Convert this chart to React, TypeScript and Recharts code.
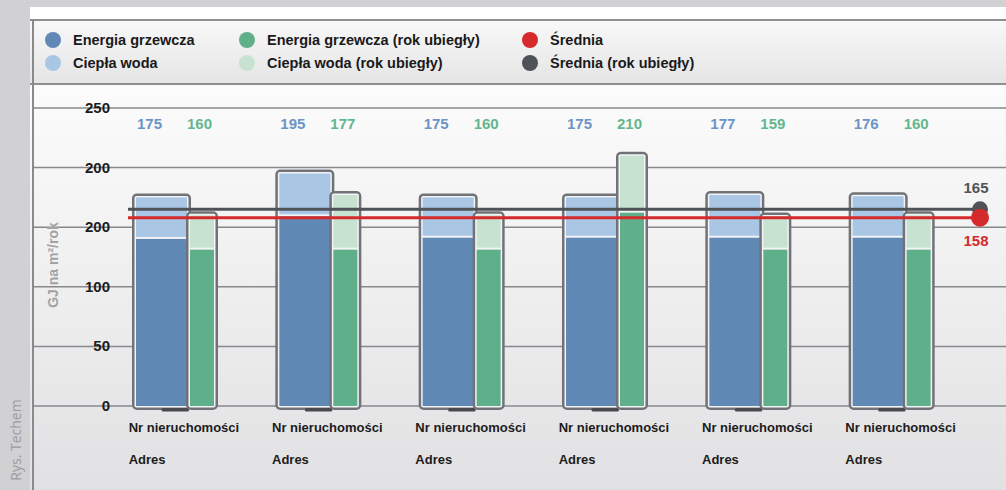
import {
  ComposedChart,
  Bar,
  XAxis,
  YAxis,
  CartesianGrid,
  ReferenceLine,
  LabelList,
} from "recharts";

const PROPERTIES = [
  "Nr nieruchomości",
  "Nr nieruchomości",
  "Nr nieruchomości",
  "Nr nieruchomości",
  "Nr nieruchomości",
  "Nr nieruchomości",
];
const ADDRESSES = ["Adres", "Adres", "Adres", "Adres", "Adres", "Adres"];

// GJ per m² per year
const HEATING = [141, 160, 142, 142, 142, 142];
const HOT_WATER = [34, 35, 33, 33, 35, 34];
const HEATING_PREV = [132, 132, 132, 163, 132, 132];
const HOT_WATER_PREV = [28, 45, 28, 47, 27, 28];

const AVERAGE = 158;
const AVERAGE_PREV = 165;

const Y_TICKS = [0, 50, 100, 150, 200, 250];
const Y_TICK_LABELS = ["0", "50", "100", "200", "200", "250"];
const Y_TITLE = "GJ na m²/rok";

const BLUE = "#6089b6";
const LIGHT_BLUE = "#a9c7e5";
const GREEN = "#5fb08a";
const LIGHT_GREEN = "#c7e2d1";
const RED = "#d42a2c";
const DARK = "#4f5358";

const FONT = "'Liberation Sans', Arial, sans-serif";
const W = 1006;
const H = 490;
const GRID_LEFT = 33;
const LABEL_Y = 129;

const data = PROPERTIES.map((name, i) => ({
  name,
  heating: HEATING[i],
  water: HOT_WATER[i],
  total: HEATING[i] + HOT_WATER[i],
  heatingPrev: HEATING_PREV[i],
  waterPrev: HOT_WATER_PREV[i],
  totalPrev: HEATING_PREV[i] + HOT_WATER_PREV[i],
}));

const LEGEND = [
  { label: "Energia grzewcza", color: BLUE, x: 53, y: 40 },
  { label: "Ciepła woda", color: LIGHT_BLUE, x: 53, y: 63 },
  { label: "Energia grzewcza (rok ubiegły)", color: GREEN, x: 247, y: 40 },
  { label: "Ciepła woda (rok ubiegły)", color: LIGHT_GREEN, x: 247, y: 63 },
  { label: "Średnia", color: RED, x: 530, y: 40 },
  { label: "Średnia (rok ubiegły)", color: DARK, x: 530, y: 63 },
];

// bottom segment draws the frame for the whole stack
function StackBase(props: any) {
  const { x, y, width, height, fill, stackTotal, baseValue, shadow } = props;
  if (!height || height <= 0) return null;
  const fullH = (height * stackTotal) / baseValue;
  const bottom = y + height;
  const top = bottom - fullH;
  return (
    <g>
      <rect x={x - 4} y={top - 4} width={width + 8} height={fullH + 8} rx={5} fill="#707277" />
      {shadow && (
        <rect x={x + width / 2} y={bottom + 2} width={width / 2 + 2} height={3.5} rx={1.5} fill="#484a4e" />
      )}
      <rect x={x - 1.5} y={top - 1.5} width={width + 3} height={fullH + 3} rx={2} fill="#f3f4f6" />
      <rect x={x} y={y + 1} width={width} height={height - 1} fill={fill} />
    </g>
  );
}

function StackTop(props: any) {
  const { x, y, width, height, fill } = props;
  if (!height || height <= 0) return null;
  return <rect x={x} y={y} width={width} height={height - 1} fill={fill} />;
}

const makeTopLabel = (color: string, dx: number) => (props: any) => {
  const { x, value } = props;
  return (
    <text x={x + dx} y={LABEL_Y} fill={color} fontSize={15} fontWeight="bold" fontFamily={FONT}>
      {value}
    </text>
  );
};

const makeAverageLine = (color: string, value: number, above: boolean, r: number) => (props: any) => {
  const { x1, x2, y1 } = props;
  return (
    <g>
      <line x1={x1 + 25} x2={x2} y1={y1} y2={y1} stroke={color} strokeWidth={3} />
      <circle cx={x2} cy={y1} r={r} fill={color} />
      <text
        x={x2 - 4}
        y={above ? y1 - 16 : y1 + 28}
        textAnchor="middle"
        fill={color}
        fontSize={15}
        fontWeight="bold"
        fontFamily={FONT}
      >
        {value}
      </text>
    </g>
  );
};

function YTick(props: any) {
  const { x, y, index } = props;
  return (
    <text
      x={x + 15}
      y={y + 5}
      textAnchor="end"
      fill="#1c1c1c"
      fontSize={15}
      fontWeight="bold"
      fontFamily={FONT}
    >
      {Y_TICK_LABELS[index]}
    </text>
  );
}

function XTick(props: any) {
  const { x, y, index } = props;
  return (
    <g fill="#1c1c1c" fontSize={13} fontWeight="bold" fontFamily={FONT}>
      <text x={x - 46} y={y + 18}>{PROPERTIES[index]}</text>
      <text x={x - 46} y={y + 50}>{ADDRESSES[index]}</text>
    </g>
  );
}

function YTitle(props: any) {
  const { viewBox } = props;
  const cx = viewBox.x + 23;
  const cy = viewBox.y + viewBox.height / 2 + 8;
  return (
    <text
      x={cx}
      y={cy}
      transform={`rotate(-90 ${cx} ${cy})`}
      textAnchor="middle"
      dominantBaseline="central"
      fill="#a2a2a5"
      fontSize={14}
      fontWeight="bold"
      fontFamily={FONT}
    >
      {Y_TITLE}
    </text>
  );
}

export default function App() {
  return (
    <div
      style={{
        position: "absolute",
        left: 0,
        top: 0,
        width: W,
        height: H,
        overflow: "hidden",
        background: "#d1d1d3",
        fontFamily: FONT,
      }}
    >
      <div style={{ position: "absolute", left: 30, top: 7, right: 0, bottom: 0, background: "#fff" }} />
      <div
        style={{
          position: "absolute",
          left: 30,
          top: 19,
          right: 0,
          height: 62,
          borderTop: "2px solid #8f8f92",
          borderBottom: "2px solid #8f8f92",
          background: "linear-gradient(#f8f8f8, #e5e5e6)",
        }}
      />
      <div
        style={{
          position: "absolute",
          left: 30,
          top: 85,
          right: 0,
          bottom: 0,
          background: "linear-gradient(#fcfcfc, #e1e1e3)",
        }}
      />
      <div style={{ position: "absolute", left: 32, top: 19, width: 2, bottom: 0, background: "#8a8a8d" }} />
      <div
        style={{
          position: "absolute",
          left: 15,
          top: 440,
          transform: "translate(-50%, -50%) rotate(-90deg)",
          color: "#9c9c9f",
          fontSize: 14,
          whiteSpace: "nowrap",
          fontFamily: "'Open Sans', sans-serif",
        }}
      >
        Rys. Techem
      </div>
      {LEGEND.map((item) => (
        <div key={item.label}>
          <div
            style={{
              position: "absolute",
              left: item.x - 8,
              top: item.y - 8,
              width: 16,
              height: 16,
              borderRadius: 8,
              background: item.color,
            }}
          />
          <div
            style={{
              position: "absolute",
              left: item.x + 20,
              top: item.y - 9,
              fontSize: 14.5,
              lineHeight: "18px",
              fontWeight: "bold",
              color: "#1a1a1a",
              whiteSpace: "nowrap",
            }}
          >
            {item.label}
          </div>
        </div>
      ))}
      <div style={{ position: "absolute", left: 0, top: 0 }}>
        <ComposedChart
          width={W}
          height={H}
          data={data}
          margin={{ top: 108, right: 26, bottom: 24, left: 30 }}
          barGap={3}
        >
          <CartesianGrid
            vertical={false}
            horizontal={(p: any) => (
              <line
                key={`g-${p.y1}`}
                x1={GRID_LEFT}
                x2={W}
                y1={p.y1}
                y2={p.y2}
                stroke="#86888c"
                strokeWidth={1.5}
              />
            )}
          />
          <XAxis
            dataKey="name"
            axisLine={false}
            tickLine={false}
            height={60}
            interval={0}
            padding={{ left: 0, right: 17 }}
            tick={<XTick />}
          />
          <YAxis
            domain={[0, 250]}
            ticks={Y_TICKS}
            width={73}
            axisLine={false}
            tickLine={false}
            tick={<YTick />}
            label={<YTitle />}
          />
          <Bar
            dataKey="heating"
            stackId="a"
            barSize={51}
            fill={BLUE}
            isAnimationActive={false}
            shape={(p: any) => (
              <StackBase {...p} stackTotal={p.payload.total} baseValue={p.payload.heating} shadow />
            )}
          />
          <Bar
            dataKey="water"
            stackId="a"
            barSize={51}
            fill={LIGHT_BLUE}
            isAnimationActive={false}
            shape={(p: any) => <StackTop {...p} />}
          >
            <LabelList dataKey="total" content={makeTopLabel("#6b94c5", 1)} />
          </Bar>
          <Bar
            dataKey="heatingPrev"
            stackId="b"
            barSize={24}
            fill={GREEN}
            isAnimationActive={false}
            shape={(p: any) => (
              <StackBase {...p} stackTotal={p.payload.totalPrev} baseValue={p.payload.heatingPrev} />
            )}
          />
          <Bar
            dataKey="waterPrev"
            stackId="b"
            barSize={24}
            fill={LIGHT_GREEN}
            isAnimationActive={false}
            shape={(p: any) => <StackTop {...p} />}
          >
            <LabelList dataKey="totalPrev" content={makeTopLabel("#63b68d", -3)} />
          </Bar>
          <ReferenceLine y={AVERAGE_PREV} shape={makeAverageLine(DARK, AVERAGE_PREV, true, 8)} />
          <ReferenceLine y={AVERAGE} shape={makeAverageLine(RED, AVERAGE, false, 9)} />
        </ComposedChart>
      </div>
    </div>
  );
}
